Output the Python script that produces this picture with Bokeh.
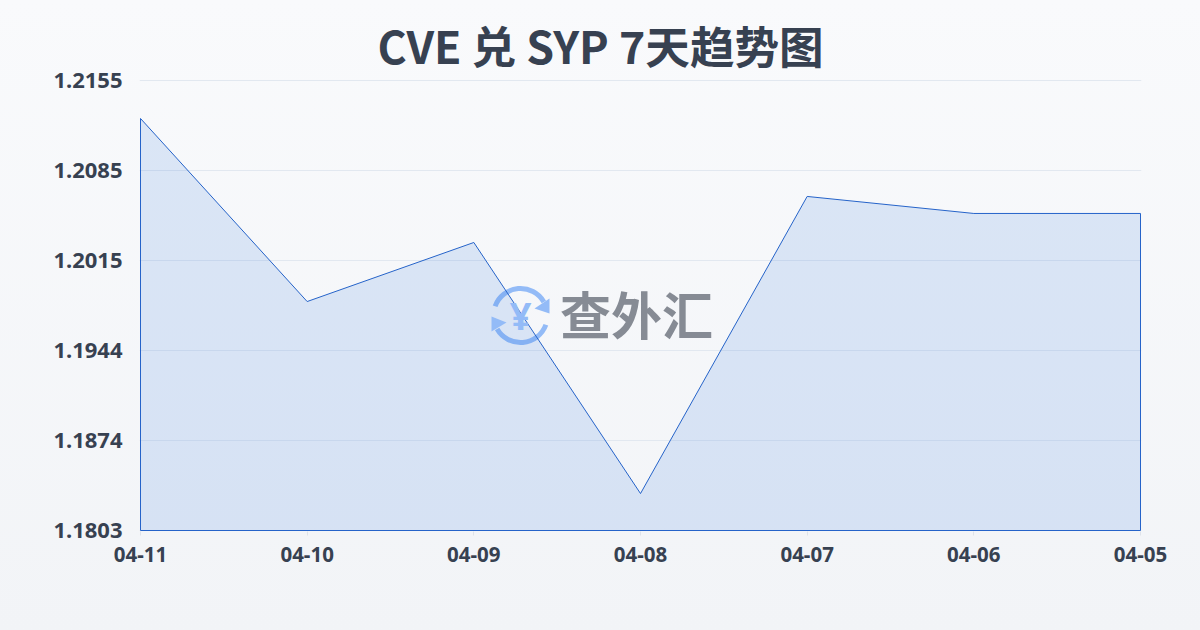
from bokeh.plotting import figure
from bokeh.embed import file_html
from bokeh.resources import INLINE
from bokeh.models import Label, FixedTicker, PolyAnnotation, Range1d
import math

dates = ["04-11", "04-10", "04-09", "04-08", "04-07", "04-06", "04-05"]
rates = [1.21253, 1.19821, 1.20283, 1.18319, 1.20643, 1.20510, 1.20510]
y_ticks = [1.1803, 1.18734, 1.19438, 1.20142, 1.20846, 1.2155]
y_labels = ["1.1803", "1.1874", "1.1944", "1.2015", "1.2085", "1.2155"]
title_text = "CVE 兑 SYP 7天趋势图"
watermark = "查外汇"

Y0, Y1 = y_ticks[0], y_ticks[-1]
TEXT = "#374151"


def dx(px):
    return (px - 140) / 1000 * (len(dates) - 1)


def dy(py):
    return Y0 + (530 - py) / 450 * (Y1 - Y0)


# 1px of padding so that edge strokes and the top grid line are not clipped
p = figure(width=1200, height=630, output_backend="svg", toolbar_location=None,
           x_range=Range1d(dx(139), dx(1141)), y_range=Range1d(dy(531), dy(79)),
           min_border_left=139, min_border_right=59, min_border_top=79, min_border_bottom=99,
           background_fill_color=None, border_fill_color=None, outline_line_color=None,
           title=title_text)

p.title.align = "left"
p.title.offset = 238
p.title.standoff = 6
p.title.text_font = "Noto Sans CJK SC"
p.title.text_font_style = "bold"
p.title.text_font_size = "44.6px"
p.title.text_color = TEXT

xs = list(range(len(dates)))

# Axes / grid
p.xaxis.ticker = FixedTicker(ticks=xs)
p.xaxis.major_label_overrides = dict(zip(xs, dates))
p.yaxis.ticker = FixedTicker(ticks=y_ticks)
p.yaxis.major_label_overrides = dict(zip(y_ticks, y_labels))
p.xgrid.visible = False
p.ygrid.grid_line_color = "#e2e8f0"
p.ygrid.grid_line_width = 1
p.xaxis.axis_line_color = None
p.yaxis.axis_line_color = None
p.yaxis.major_tick_line_color = None
p.yaxis.minor_tick_line_color = None
p.xaxis.minor_tick_line_color = None
p.xaxis.major_tick_line_color = "#dfe3ea"
p.xaxis.major_tick_out = 4
p.xaxis.major_tick_in = 0
p.yaxis.major_tick_out = 0
p.yaxis.major_tick_in = 0
p.yaxis.major_label_standoff = 17
p.xaxis.major_label_standoff = 11
for ax, size in ((p.xaxis, "20.5px"), (p.yaxis, "22px")):
    ax.major_label_text_font = "Noto Sans"
    ax.major_label_text_font_style = "bold"
    ax.major_label_text_font_size = size
    ax.major_label_text_color = TEXT

# Watermark logo (decorative), placed by page pixel
BLUE = "#93bbf7"
CX, CY, R = 520, 315, 27
p.arc(x=[dx(CX)], y=[dy(CY)], radius=R, radius_units="screen",
      start_angle=math.radians(30), end_angle=math.radians(160),
      line_color=BLUE, line_width=5)
p.arc(x=[dx(CX)], y=[dy(CY)], radius=R, radius_units="screen",
      start_angle=math.radians(210), end_angle=math.radians(340),
      line_color=BLUE, line_width=5)
for pts in ([(549, 298), (549, 313), (534, 308)], [(491, 316), (491, 331), (506, 322)]):
    p.add_layout(PolyAnnotation(xs=[dx(a) for a, _ in pts], ys=[dy(b) for _, b in pts],
                                fill_color=BLUE, fill_alpha=1, line_color=None))
p.add_layout(Label(x=dx(CX), y=dy(CY - 1), text="¥",
                   text_font="Noto Sans", text_font_style="bold", text_font_size="38px",
                   text_color=BLUE, text_align="center", text_baseline="middle"))
p.add_layout(Label(x=dx(636), y=dy(312), text=watermark,
                   text_font="Noto Sans CJK SC", text_font_style="bold", text_font_size="51px",
                   text_color="#868b94", text_align="center", text_baseline="middle"))

# Area with a closed outline
p.patch(xs + [xs[-1], xs[0]], rates + [Y0, Y0],
        fill_color="#3578dc", fill_alpha=0.15, line_color="#2563c9", line_width=1)

html = file_html(p, INLINE)
html = html.replace("<head>", "<head><style>html{min-height:100%;background:linear-gradient(180deg,#f9fafc,#f2f4f7) no-repeat;}body{background:transparent;}</style>", 1)
open("out.html", "w").write(html)
